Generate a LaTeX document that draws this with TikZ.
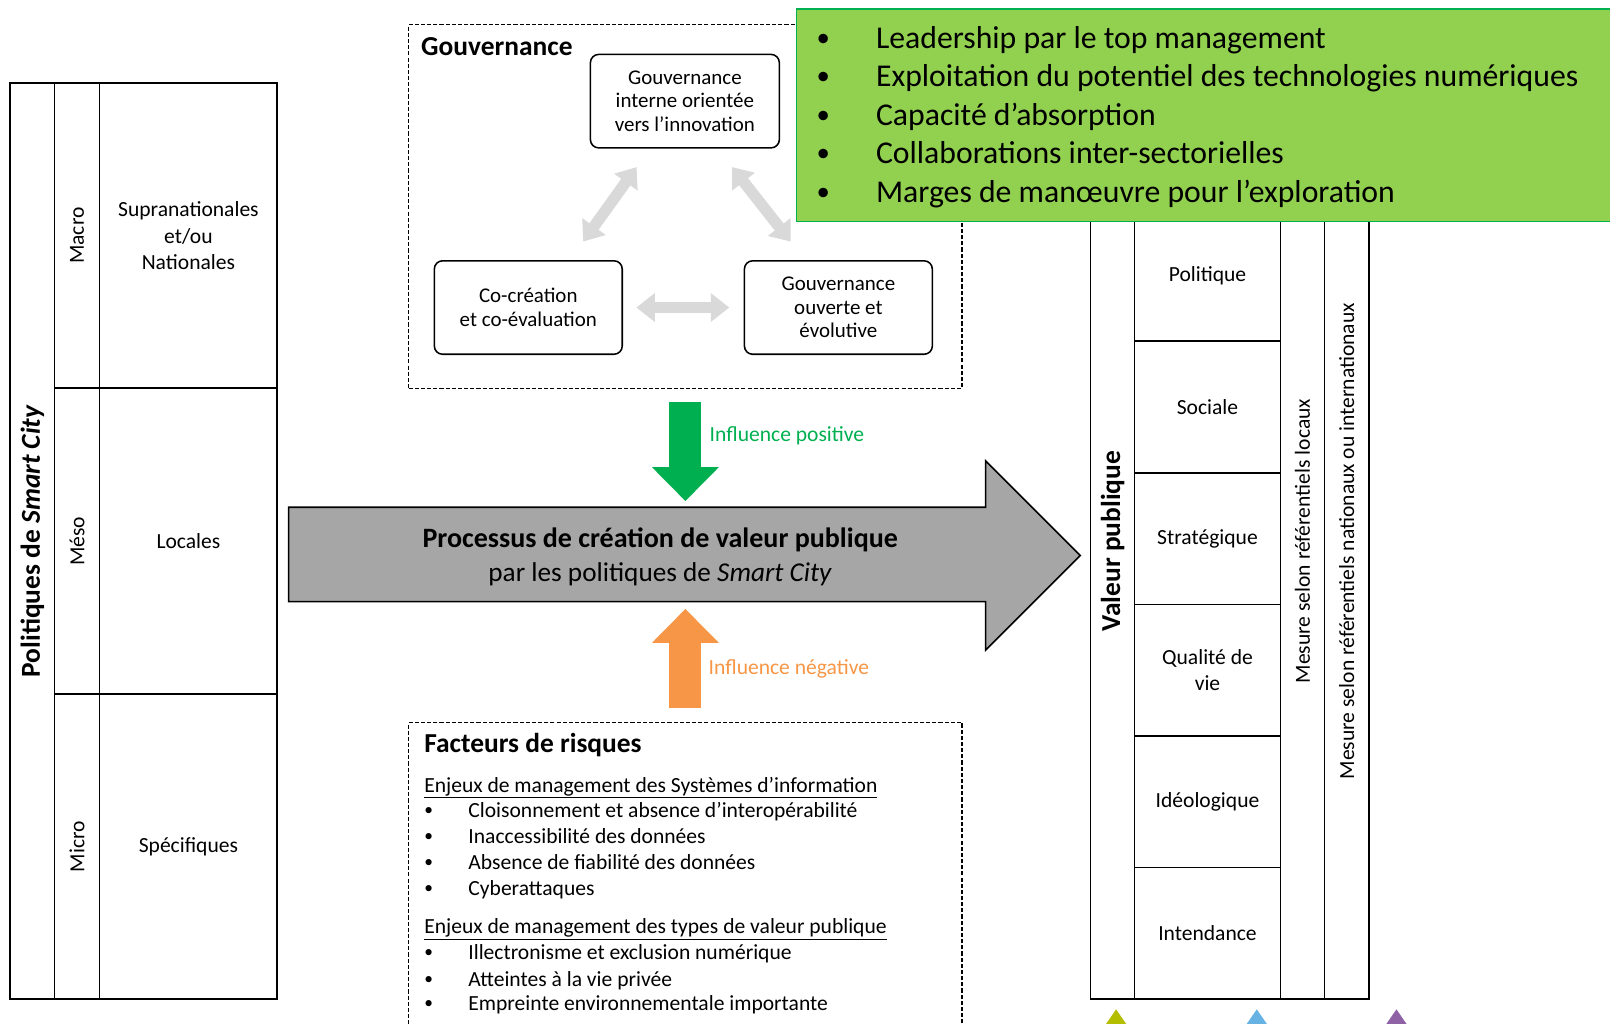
\documentclass[tikz,border=0pt]{standalone}
\usepackage{fontspec}
\setmainfont{Carlito}
\usetikzlibrary{arrows.meta,calc}
\definecolor{vert}{HTML}{92D050}
\definecolor{vertfonce}{HTML}{00B050}
\definecolor{orangeneg}{HTML}{F79646}
\definecolor{grisclair}{HTML}{D9D9D9}
\definecolor{grisfleche}{HTML}{A6A6A6}
\definecolor{triolive}{HTML}{B4BE00}
\definecolor{tribleu}{HTML}{66B2E2}
\definecolor{triviolet}{HTML}{8E62A5}
\newcommand{\puce}{\raisebox{2pt}{\fontsize{17}{17}\selectfont•}}
\newcommand{\grossepuce}{\raisebox{2.5pt}{\fontsize{26}{26}\selectfont•}}

\begin{document}
\begin{tikzpicture}[x=1pt,y=-1pt,
        petit/.style={font=\fontsize{21}{25.5}\selectfont},
        titre/.style={font=\fontsize{26.7}{32}\selectfont\bfseries},
        cellule/.style={draw,line width=1.6pt,inner sep=0pt,outer sep=0pt,align=center,petit},
        boite/.style={draw,line width=1.5pt,rounded corners=8pt,align=center,inner sep=0pt,
            minimum width=184pt,minimum height=91pt,font=\fontsize{20.4}{23}\selectfont},
        pointille/.style={draw,line width=1.2pt,dash pattern=on 4pt off 2pt,inner sep=0pt},
        ligne/.style={anchor=west,inner sep=0pt,text height=17pt,text depth=4pt,petit},
        grande/.style={anchor=west,inner sep=0pt,text height=26pt,text depth=5pt,
            font=\fontsize{30.9}{37.5}\selectfont},
        liens/.style={line width=11pt,grisclair,
            {Triangle[width=27pt,length=18pt]}-{Triangle[width=27pt,length=18pt]}},
        bloc/.style={line width=31pt,-{Triangle[width=63pt,length=33pt]}}]
        \useasboundingbox(0,0)rectangle(1568,997);
        \clip(0,0)rectangle(1568,997);

        % politiques de smart city
        \node[cellule,rotate=90,minimum width=892pt,minimum height=43pt,titre](pol)at(31.5,527){Politiques de \textit{Smart City}};
        \node[cellule,rotate=90,minimum width=297pt,minimum height=44pt](macro)at(75,229.5){Macro};
        \node[cellule,rotate=90,minimum width=298pt,minimum height=44pt](meso)at(75,527){Méso};
        \node[cellule,rotate=90,minimum width=297pt,minimum height=44pt](micro)at(75,824.5){Micro};
        \node[cellule,minimum width=173pt,minimum height=297pt](supra)at(183.5,229.5){Supranationales\\et/ou\\Nationales};
        \node[cellule,minimum width=173pt,minimum height=298pt](locales)at(183.5,527){Locales};
        \node[cellule,minimum width=173pt,minimum height=297pt](specif)at(183.5,824.5){Spécifiques};

        % valeur publique
        \node[cellule,rotate=90,minimum width=892pt,minimum height=43pt,titre](valeur)at(1083.5,527){Valeur publique};
        \node[cellule,minimum width=142pt,minimum height=128.2pt](politique)at(1176,268.1){Politique};
        \node[cellule,minimum width=142pt,minimum height=128.2pt](sociale)at(1176,396.3){Sociale};
        \node[cellule,minimum width=142pt,minimum height=128.2pt](strat)at(1176,524.5){Stratégique};
        \node[cellule,minimum width=142pt,minimum height=128.2pt](qualite)at(1176,652.7){Qualité de\\vie};
        \node[cellule,minimum width=142pt,minimum height=128.2pt](ideo)at(1176,780.9){Idéologique};
        \node[cellule,minimum width=142pt,minimum height=128.2pt](intend)at(1176,909.1){Intendance};
        \node[cellule,rotate=90,minimum width=892pt,minimum height=43pt](locaux)at(1268.5,527){Mesure selon référentiels locaux};
        \node[cellule,rotate=90,minimum width=892pt,minimum height=43pt](nationaux)at(1311.5,527){Mesure selon référentiels nationaux ou internationaux};

        % gouvernance
        \node[pointille,minimum width=539pt,minimum height=354pt](gov)at(667.5,201){};
        \node[ligne,titre,text height=20pt,text depth=5pt]at(410,47){Gouvernance};
        \node[boite](interne)at(667,98.5){Gouvernance\\interne orientée\\vers l’innovation};
        \node[boite,minimum width=183pt](cocrea)at(514.5,299.5){Co-création\\et co-évaluation};
        \node[boite,minimum width=183pt](ouverte)at(816.5,299.5){Gouvernance\\ouverte et\\évolutive};
        \draw[liens]($(cocrea.north)+(53.5,-18)$)--($(interne.south)+(-47,18)$);
        \draw[liens]($(interne.south)+(46,18)$)--($(ouverte.north)+(-46.5,-18)$);
        \draw[liens,shorten <=13pt,shorten >=14pt](cocrea.east)--(ouverte.west);

        % leviers
        \node[fill=vert,draw=vertfonce,line width=1.5pt,minimum width=800pt,minimum height=207pt,anchor=north west](leviers)at(775,8){};
        \node[grande]at(795,37){\makebox[58pt][l]{\grossepuce}Leadership par le top management};
        \node[grande]at(795,74){\makebox[58pt][l]{\grossepuce}Exploitation du potentiel des technologies numériques};
        \node[grande]at(795,112){\makebox[58pt][l]{\grossepuce}Capacité d’absorption};
        \node[grande]at(795,149){\makebox[58pt][l]{\grossepuce}Collaborations inter-sectorielles};
        \node[grande]at(795,187){\makebox[58pt][l]{\grossepuce}Marges de manœuvre pour l’exploration};

        % processus
        \draw[fill=grisfleche,line width=1.5pt](281,494)--(960,494)--(960,449)--(1052,541)--(960,633)--(960,586)--(281,586)--cycle;
        \coordinate(procN)at(667.5,494);
        \coordinate(procS)at(667.5,586);
        \node[font=\fontsize{27.3}{33}\selectfont\bfseries](proc)at(643,526){Processus de création de valeur publique};
        \node[font=\fontsize{26.5}{33}\selectfont](parles)at(643,559){par les politiques de \textit{Smart City}};

        % facteurs de risques
        \node[pointille,minimum width=539pt,minimum height=330pt,anchor=north](risques)at(667.5,703){};
        \draw[bloc,vertfonce,shorten <=13pt,shorten >=6pt](gov.south)--(procN);
        \draw[bloc,orangeneg,shorten <=13pt,shorten >=7pt](risques.north)--(procS);
        \node[ligne,text=vertfonce]at(691,423){Influence positive};
        \node[ligne,text=orangeneg]at(690,650){Influence négative};
        \node[ligne,titre,text height=20pt,text depth=5pt]at(413,725){Facteurs de risques};
        \node[ligne]at(413,765){\underline{Enjeux de management des Systèmes d’information}};
        \node[ligne]at(413,790){\makebox[43pt][l]{\puce}Cloisonnement et absence d’interopérabilité};
        \node[ligne]at(413,815){\makebox[43pt][l]{\puce}Inaccessibilité des données};
        \node[ligne]at(413,840){\makebox[43pt][l]{\puce}Absence de fiabilité des données};
        \node[ligne]at(413,866){\makebox[43pt][l]{\puce}Cyberattaques};
        \node[ligne]at(413,903){\underline{Enjeux de management des types de valeur publique}};
        \node[ligne]at(413,928){\makebox[43pt][l]{\puce}Illectronisme et exclusion numérique};
        \node[ligne]at(413,954){\makebox[43pt][l]{\puce}Atteintes à la vie privée};
        \node[ligne]at(413,978){\makebox[43pt][l]{\puce}Empreinte environnementale importante};

        % reperes
        \fill[triolive](1087,983)--(1107,1012)--(1067,1012)--cycle;
        \fill[tribleu](1224,983)--(1244,1012)--(1204,1012)--cycle;
        \fill[triviolet](1360,983)--(1380,1012)--(1340,1012)--cycle;
    \end{tikzpicture}
\end{document}
